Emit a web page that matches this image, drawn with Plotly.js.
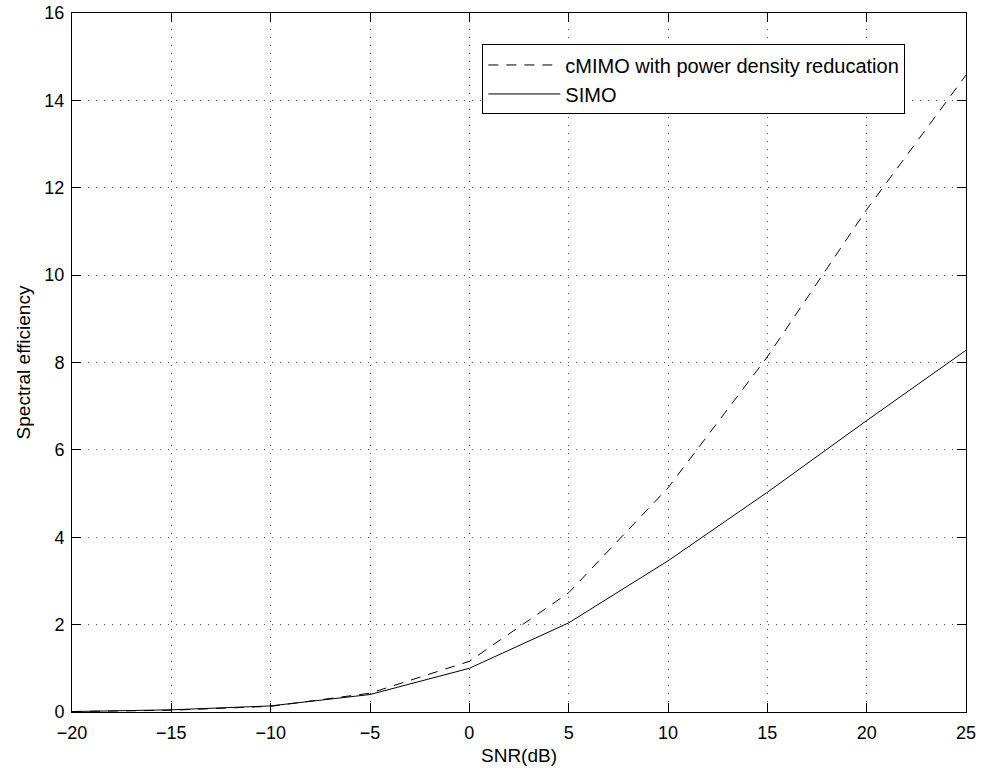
<!DOCTYPE html>
<html>
<head>
<meta charset="utf-8">
<script src="https://cdn.plot.ly/plotly-3.0.1.min.js"></script>
<style>html,body{margin:0;padding:0;background:#fff;}#chart{width:984px;height:771px;}</style>
</head>
<body>
<div id="chart"></div>
<script>
const snr = [-20, -15, -10, -5, 0, 5, 10, 15, 20, 25];
const cmimo = [0.01, 0.04, 0.13, 0.43, 1.16, 2.73, 5.13, 8.13, 11.5, 14.58];
const simo = [0.01, 0.05, 0.14, 0.40, 1.0, 2.04, 3.46, 5.03, 6.67, 8.28];
const xTicks = [-20, -15, -10, -5, 0, 5, 10, 15, 20, 25];
const yTicks = [0, 2, 4, 6, 8, 10, 12, 14, 16];

const FONT = 'Liberation Sans, Arial, Helvetica, sans-serif';

const traces = [
  {x: snr, y: cmimo, type: 'scatter', mode: 'lines', name: 'cMIMO with power density reducation',
   line: {color: '#000', width: 1, dash: '10px,8px'}},
  {x: snr, y: simo, type: 'scatter', mode: 'lines', name: 'SIMO',
   line: {color: '#000', width: 1}}
];

const axisCommon = {
  showline: true, linecolor: '#000', linewidth: 1, mirror: 'ticks',
  ticks: 'inside', ticklen: 9, tickcolor: '#000', tickwidth: 1,
  showgrid: true, gridcolor: '#555', gridwidth: 1, griddash: '1px,7px',
  zeroline: false,
  tickfont: {family: FONT, size: 18, color: '#000'}
};

const layout = {
  width: 984, height: 771,
  margin: {l: 72, r: 18, t: 13, b: 59},
  paper_bgcolor: '#fff', plot_bgcolor: '#fff',
  showlegend: true,
  legend: {
    x: 0.459, y: 0.955, xanchor: 'left', yanchor: 'top',
    bgcolor: '#fff', bordercolor: '#000', borderwidth: 1,
    font: {family: FONT, size: 20, color: '#000'},
    itemwidth: 72, tracegroupgap: 0
  },
  xaxis: Object.assign({}, axisCommon, {
    range: [-20, 25], tickvals: xTicks, ticktext: xTicks.map(v => String(v).replace('-', '\u2212')),
    ticklabelstandoff: 4,
    title: {text: 'SNR(dB)', font: {family: FONT, size: 19, color: '#000'}, standoff: 7}
  }),
  yaxis: Object.assign({}, axisCommon, {
    range: [0, 16], tickvals: yTicks, ticktext: yTicks.map(String),
    ticklabelstandoff: 3,
    title: {text: 'Spectral efficiency', font: {family: FONT, size: 19, color: '#000'}, standoff: 8}
  })
};

Plotly.newPlot('chart', traces, layout, {displayModeBar: false, staticPlot: true});
</script>
</body>
</html>
